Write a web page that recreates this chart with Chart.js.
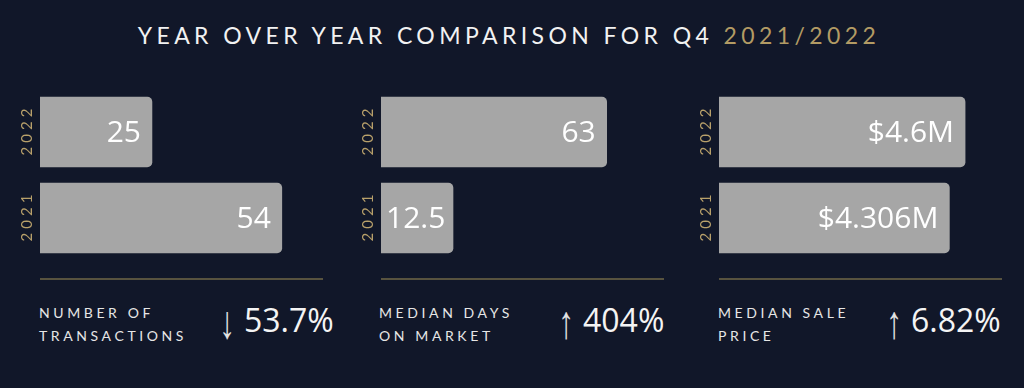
<!DOCTYPE html>
<html>
<head>
<meta charset="utf-8">
<script src="https://cdn.jsdelivr.net/npm/chart.js@4"></script>
<style>
  html, body { margin: 0; padding: 0; }
  body { width: 1024px; height: 388px; background: #111729; position: relative; overflow: hidden; }
  .title { position: absolute; left: -3px; width: 1024px; top: 21px; text-align: center;
    font-family: Lato, sans-serif; font-size: 23px; letter-spacing: 4.4px; color: #f2f2f2; white-space: nowrap; }
  .title span { color: #b39b64; }
  .panel { position: absolute; top: 80px; width: 340px; height: 190px; }
  .rule { position: absolute; top: 278px; width: 283px; height: 2px; background: #58533f; }
  .caption { position: absolute; top: 302px; font-family: Lato, sans-serif; font-size: 14px;
    letter-spacing: 3.6px; line-height: 22.5px; color: #e6e6e6; white-space: nowrap; }
  .change { position: absolute; top: 298px; font-family: "Open Sans", sans-serif; font-size: 32px; color: #f4f4f4; white-space: nowrap; }
  .change .arr { display: inline-block; font-family: "Liberation Sans", sans-serif; font-size: 32px; color: #e2e2e2;
    margin-right: 9px; transform: scaleY(1.45) translateY(1px); }
</style>
</head>
<body>
<div class="title">YEAR OVER YEAR COMPARISON FOR Q4 <span>2021/2022</span></div>

<div class="panel" style="left:0px"><canvas id="c0"></canvas></div>
<div class="panel" style="left:341px"><canvas id="c1"></canvas></div>
<div class="panel" style="left:679px"><canvas id="c2"></canvas></div>

<div class="rule" style="left:40px"></div>
<div class="rule" style="left:381px"></div>
<div class="rule" style="left:719px"></div>

<div class="caption" style="left:39px">NUMBER OF<br>TRANSACTIONS</div>
<div class="caption" style="left:379px">MEDIAN DAYS<br>ON MARKET</div>
<div class="caption" style="left:718px">MEDIAN SALE<br>PRICE</div>

<div class="change" style="left:219px"><span class="arr">↓</span>53.7%</div>
<div class="change" style="left:558px"><span class="arr">↑</span>404%</div>
<div class="change" style="left:886px"><span class="arr">↑</span>6.82%</div>

<script>
const years = ['2022', '2021'];
const transactions = [25, 54];
const daysOnMarket = [63, 12.5];
const salePrice = [4.6, 4.306];
const salePriceLabels = ['$4.6M', '$4.306M'];

const barGrey = '#a6a6a6';
const gold = '#b8a06a';

// year labels rotated, drawn at the category positions
const yearLabels = {
  id: 'yearLabels',
  afterDraw(chart) {
    const ctx = chart.ctx;
    const y = chart.scales.y;
    ctx.save();
    ctx.font = '15px Lato, sans-serif';
    ctx.letterSpacing = '4px';
    ctx.fillStyle = gold;
    ctx.textAlign = 'center';
    ctx.textBaseline = 'middle';
    chart.data.labels.forEach((lab, i) => {
      ctx.save();
      ctx.translate(27, y.getPixelForTick(i));
      ctx.rotate(-Math.PI / 2);
      ctx.fillText(lab, 2, 0);
      ctx.restore();
    });
    ctx.restore();
  }
};

// value text inside the end of each bar
const valueLabels = {
  id: 'valueLabels',
  afterDatasetsDraw(chart, args, opts) {
    const ctx = chart.ctx;
    const meta = chart.getDatasetMeta(0);
    ctx.save();
    ctx.font = '30px "Open Sans", sans-serif';
    ctx.fillStyle = '#ffffff';
    ctx.textAlign = 'right';
    ctx.textBaseline = 'middle';
    meta.data.forEach((bar, i) => {
      const txt = opts.texts ? opts.texts[i] : String(chart.data.datasets[0].data[i]);
      const w = ctx.measureText(txt).width;
      const x = Math.max(bar.x - 11, bar.base + 5 + w);
      ctx.fillText(txt, x, bar.y + 1);
    });
    ctx.restore();
  }
};

function makePanel(id, values, max, texts, minLen) {
  new Chart(document.getElementById(id), {
    type: 'bar',
    data: {
      labels: years,
      datasets: [{
        data: values,
        backgroundColor: barGrey,
        borderRadius: 5,
        barThickness: 70,
        minBarLength: minLen || 0
      }]
    },
    options: {
      indexAxis: 'y',
      responsive: true,
      maintainAspectRatio: false,
      animation: false,
      layout: { padding: { left: 40, right: 17, top: 9, bottom: 9 } },
      scales: {
        x: { display: false, min: 0, max: max },
        y: { display: false }
      },
      plugins: {
        legend: { display: false },
        tooltip: { enabled: false },
        valueLabels: { texts: texts }
      }
    },
    plugins: [yearLabels, valueLabels]
  });
}

makePanel('c0', transactions, 63.2, null);
makePanel('c1', daysOnMarket, 79, null, 72);
makePanel('c2', salePrice, 5.29, salePriceLabels);
</script>
</body>
</html>
